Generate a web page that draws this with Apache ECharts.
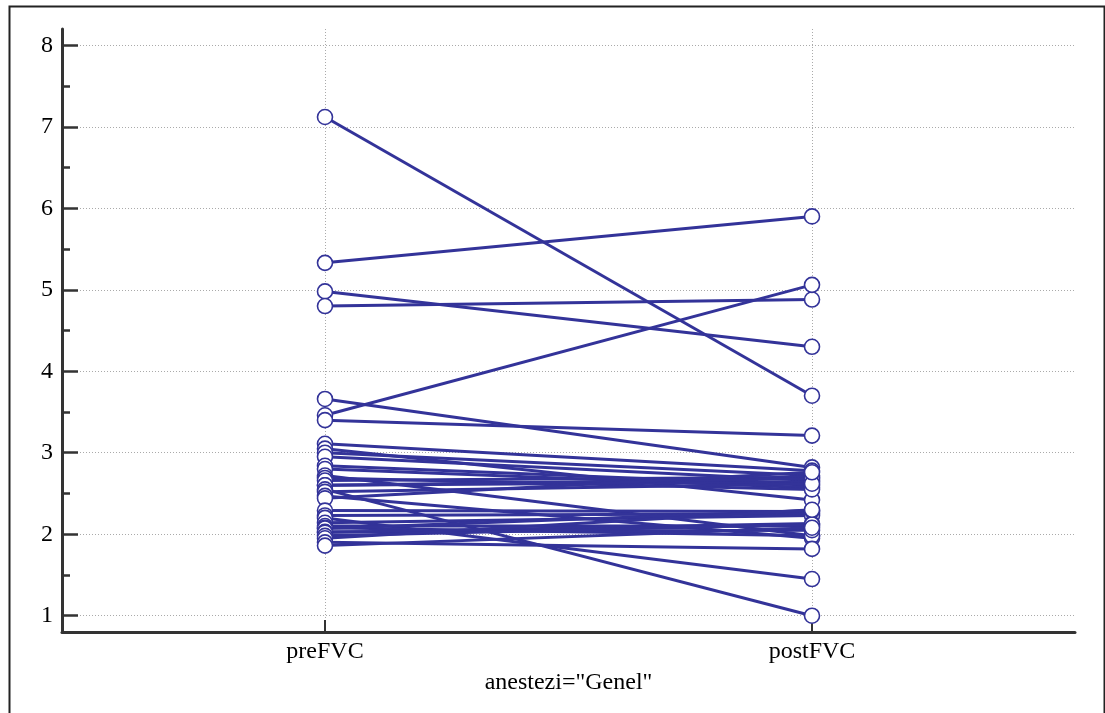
<!DOCTYPE html>
<html>
<head>
<meta charset="utf-8">
<script src="https://cdn.jsdelivr.net/npm/echarts@6/dist/echarts.min.js"></script>
<style>
  html, body { margin: 0; padding: 0; background: #fff; }
  #chart { width: 1105px; height: 713px; }
</style>
</head>
<body>
<div id="chart"></div>
<script>
const categories = ['preFVC', 'postFVC'];
const groupLabel = 'anestezi="Genel"';
const preFVC  = [7.12, 5.33, 4.98, 4.80, 3.66, 3.46, 3.40, 3.11, 3.05, 3.00, 2.95, 2.84, 2.80, 2.72, 2.69, 2.66, 2.60, 2.60, 2.55, 2.52, 2.47, 2.44, 2.29, 2.23, 2.20, 2.14, 2.10, 2.08, 2.07, 2.03, 2.02, 1.98, 1.95, 1.90, 1.86];
const postFVC = [3.70, 5.90, 4.30, 4.88, 2.82, 5.06, 3.21, 2.78, 2.42, 2.72, 2.66, 2.60, 2.57, 1.98, 2.55, 2.70, 2.64, 2.68, 1.00, 2.62, 1.95, 2.76, 2.28, 2.25, 1.45, 2.23, 2.10, 1.98, 2.29, 2.05, 2.13, 2.12, 2.30, 1.82, 2.08];
const yTickValues = [1, 2, 3, 4, 5, 6, 7, 8];
const yMinorTickValues = [1.5, 2.5, 3.5, 4.5, 5.5, 6.5, 7.5];
const xTickValues = [1, 2];

const LINE_COLOR = '#333399';
const AXIS_COLOR = '#333333';
const FONT = 'Liberation Serif';
const FS = 24;

const lineSeries = preFVC.map((p, i) => ({
  type: 'line',
  data: [[1, p], [2, postFVC[i]]],
  showSymbol: false,
  symbol: 'none',
  lineStyle: { color: LINE_COLOR, width: 3 },
  z: 2,
  silent: true
}));

const pointData = preFVC.map(p => [1, p]).concat(postFVC.map(q => [2, q]));

const chart = echarts.init(document.getElementById('chart'), null, { renderer: 'canvas' });
chart.setOption({
  animation: false,
  backgroundColor: '#fff',
  grid: { left: 62, right: 30, top: 29, bottom: 81, containLabel: false },
  graphic: [{
    type: 'rect',
    left: 7, top: 4,
    shape: { width: 1095, height: 730 },
    style: { fill: 'none', stroke: '#222', lineWidth: 2 },
    z: 100, silent: true
  }],
  xAxis: {
    type: 'value',
    min: 0.46, max: 2.54,
    name: groupLabel,
    nameLocation: 'middle',
    nameGap: 39,
    nameTextStyle: { fontFamily: FONT, fontSize: FS, color: '#000' },
    axisLine: { show: true, onZero: false, lineStyle: { color: AXIS_COLOR, width: 3 } },
    axisTick: { show: true, inside: true, length: 12, customValues: xTickValues, lineStyle: { color: AXIS_COLOR, width: 2 } },
    axisLabel: {
      show: true, margin: 8, customValues: xTickValues,
      fontFamily: FONT, fontSize: FS, color: '#000',
      formatter: v => categories[Math.round(v) - 1] || ''
    },
    splitLine: { show: true, lineStyle: { color: '#aaaaaa', width: 1, type: [1, 2] } }
  },
  yAxis: [{
    type: 'value',
    min: 0.8, max: 8.2,
    axisLine: { show: true, onZero: false, lineStyle: { color: AXIS_COLOR, width: 3 } },
    axisTick: { show: true, inside: true, length: 16, customValues: yTickValues, lineStyle: { color: AXIS_COLOR, width: 2.5 } },
    axisLabel: {
      show: true, margin: 9, customValues: yTickValues,
      fontFamily: FONT, fontSize: FS, color: '#000',
      formatter: v => String(Math.round(v))
    },
    splitLine: { show: true, lineStyle: { color: '#aaaaaa', width: 1, type: [1, 2] } }
  }, {
    type: 'value',
    position: 'left',
    min: 0.8, max: 8.2,
    axisLine: { show: false, onZero: false },
    axisTick: { show: true, inside: true, length: 8, customValues: yMinorTickValues, lineStyle: { color: AXIS_COLOR, width: 2.5 } },
    axisLabel: { show: false },
    splitLine: { show: false }
  }],
  series: lineSeries.concat([{
    type: 'scatter',
    data: pointData,
    symbol: 'circle',
    symbolSize: 15,
    itemStyle: { color: '#ffffff', borderColor: LINE_COLOR, borderWidth: 1.6, opacity: 1 },
    z: 5,
    silent: true
  }])
});
</script>
</body>
</html>
